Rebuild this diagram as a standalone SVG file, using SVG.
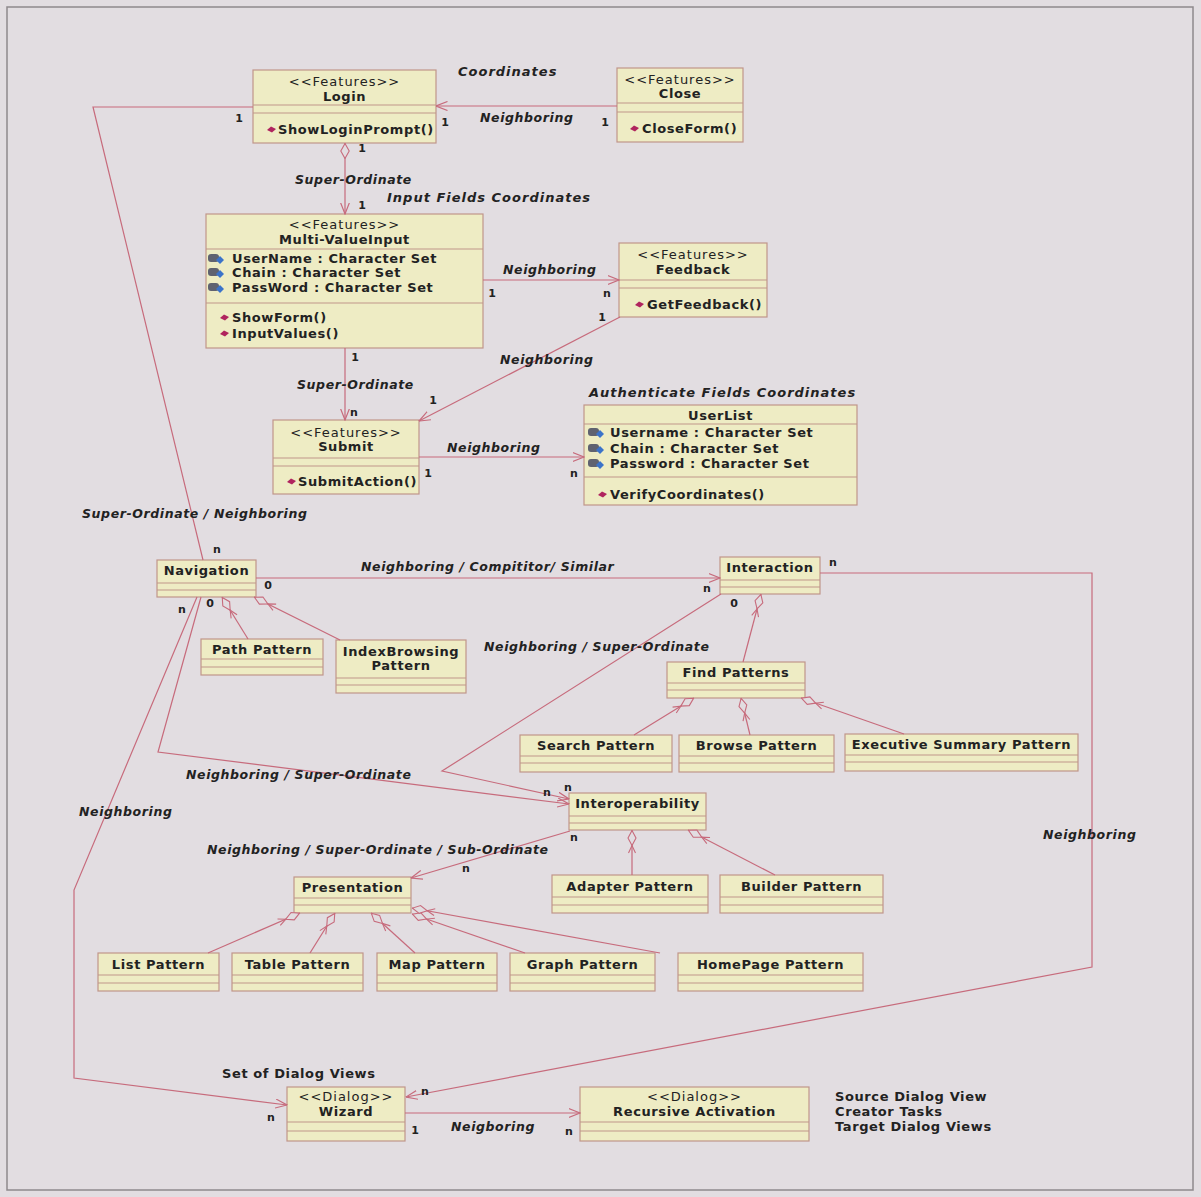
<svg xmlns="http://www.w3.org/2000/svg" xmlns:xlink="http://www.w3.org/1999/xlink" width="1201" height="1197" viewBox="0 0 1201 1197">
<style>
.bg{fill:#e2dde1}
.frame{fill:none;stroke:#8e898c;stroke-width:1.5}
.nd rect{fill:#eeecc4;stroke:#c0968a;stroke-width:1.2}
.dv{fill:none;stroke:#c0968a;stroke-width:1}
.c path{fill:none;stroke:#c76b7c;stroke-width:1.2}
text{font-family:"DejaVu Sans","Liberation Sans",sans-serif;fill:#222}
.nm{font-weight:bold;font-size:13px;letter-spacing:.6px;text-anchor:middle}
.st{font-size:13px;letter-spacing:1px;text-anchor:middle}
.at{font-weight:bold;font-size:13px;letter-spacing:.6px}
.lb{font-weight:bold;font-style:italic;font-size:12.5px;letter-spacing:.6px}
.tt{font-weight:bold;font-style:italic;font-size:13px;letter-spacing:1px}
.pl{font-weight:bold;font-size:13px;letter-spacing:.6px}
.m{font-weight:bold;font-size:11px;text-anchor:middle}
</style>
<defs>
<marker id="arr" viewBox="0 0 12 10" refX="11.5" refY="5" markerWidth="12" markerHeight="10" orient="auto" markerUnits="userSpaceOnUse">
<path d="M0,0.5 L11.5,5 L0,9.5" fill="none" stroke="#c76b7c" stroke-width="1.2"/>
</marker>
<marker id="diaS" viewBox="0 0 16 10" refX="0" refY="5" markerWidth="16" markerHeight="10" orient="auto" markerUnits="userSpaceOnUse">
<path d="M0.5,5 L8,0.8 L15.5,5 L8,9.2Z" fill="#e2dde1" stroke="#c76b7c" stroke-width="1.1"/>
</marker>
<marker id="agg" viewBox="0 0 26 10" refX="26" refY="5" markerWidth="26" markerHeight="10" orient="auto" markerUnits="userSpaceOnUse">
<path d="M3,1.5 L10.5,5 L3,8.5" fill="none" stroke="#c76b7c" stroke-width="1.1"/>
<path d="M10.5,5 L18,1 L25.5,5 L18,9Z" fill="#e2dde1" stroke="#c76b7c" stroke-width="1.1"/>
</marker>
<g id="ai"><rect x="0" y="-5" width="11" height="8" rx="3" fill="#5f6270"/><path d="M8,1 L12,-3 L16,1 L12,5Z" fill="#3b73c9"/></g>
<g id="mi"><path d="M0,0 L4,-3.5 L9,-1 L5,2.5Z" fill="#b0245e"/></g>
</defs>
<rect class="bg" x="0" y="0" width="1201" height="1197"/>
<rect class="frame" x="7" y="7" width="1186" height="1183"/>

<g id="login" class="nd">
<rect x="253" y="70" width="183" height="73"/>
<path class="dv" d="M253,105H436M253,113H436"/>
<text class="st" x="344.5" y="86">&lt;&lt;Features&gt;&gt;</text>
<text class="nm" x="344.5" y="101">Login</text>
<use xlink:href="#mi" x="267" y="130"/>
<text class="at" x="278" y="134">ShowLoginPrompt()</text>
</g>
<g id="close" class="nd">
<rect x="617" y="68" width="126" height="74"/>
<path class="dv" d="M617,103H743M617,112H743"/>
<text class="st" x="680" y="84">&lt;&lt;Features&gt;&gt;</text>
<text class="nm" x="680" y="98">Close</text>
<use xlink:href="#mi" x="630" y="129"/>
<text class="at" x="642" y="133">CloseForm()</text>
</g>
<g id="multivalueinput" class="nd">
<rect x="206" y="214" width="277" height="134"/>
<path class="dv" d="M206,249H483M206,303H483"/>
<text class="st" x="344.5" y="229">&lt;&lt;Features&gt;&gt;</text>
<text class="nm" x="344.5" y="244">Multi-ValueInput</text>
<use xlink:href="#ai" x="208" y="259"/><text class="at" x="232" y="263">UserName : Character Set</text>
<use xlink:href="#ai" x="208" y="273"/><text class="at" x="232" y="277">Chain : Character Set</text>
<use xlink:href="#ai" x="208" y="288"/><text class="at" x="232" y="292">PassWord : Character Set</text>
<use xlink:href="#mi" x="220" y="318"/><text class="at" x="232" y="322">ShowForm()</text>
<use xlink:href="#mi" x="220" y="334"/><text class="at" x="232" y="338">InputValues()</text>
</g>
<g id="feedback" class="nd">
<rect x="619" y="243" width="148" height="74"/>
<path class="dv" d="M619,280H767M619,288H767"/>
<text class="st" x="693" y="259">&lt;&lt;Features&gt;&gt;</text>
<text class="nm" x="693" y="274">Feedback</text>
<use xlink:href="#mi" x="635" y="305"/>
<text class="at" x="647" y="309">GetFeedback()</text>
</g>
<g id="submit" class="nd">
<rect x="273" y="420" width="146" height="74"/>
<path class="dv" d="M273,458H419M273,466H419"/>
<text class="st" x="346" y="437">&lt;&lt;Features&gt;&gt;</text>
<text class="nm" x="346" y="451">Submit</text>
<use xlink:href="#mi" x="287" y="482"/>
<text class="at" x="298" y="486">SubmitAction()</text>
</g>
<g id="userlist" class="nd">
<rect x="584" y="405" width="273" height="100"/>
<path class="dv" d="M584,424H857M584,477H857"/>
<text class="nm" x="720.5" y="420">UserList</text>
<use xlink:href="#ai" x="588" y="433"/><text class="at" x="610" y="437">Username : Character Set</text>
<use xlink:href="#ai" x="588" y="449"/><text class="at" x="610" y="453">Chain : Character Set</text>
<use xlink:href="#ai" x="588" y="464"/><text class="at" x="610" y="468">Password : Character Set</text>
<use xlink:href="#mi" x="598" y="495"/><text class="at" x="610" y="499">VerifyCoordinates()</text>
</g>
<g id="navigation" class="nd">
<rect x="157" y="560" width="99" height="37"/>
<path class="dv" d="M157,583H256M157,590H256"/>
<text class="nm" x="206.5" y="575">Navigation</text>
</g>
<g id="pathpattern" class="nd">
<rect x="201" y="639" width="122" height="36"/>
<path class="dv" d="M201,659H323M201,667H323"/>
<text class="nm" x="262" y="654">Path Pattern</text>
</g>
<g id="indexbrowsing" class="nd">
<rect x="336" y="640" width="130" height="53"/>
<path class="dv" d="M336,678H466M336,685H466"/>
<text class="nm" x="401" y="656">IndexBrowsing</text>
<text class="nm" x="401" y="670">Pattern</text>
</g>
<g id="interaction" class="nd">
<rect x="720" y="557" width="100" height="37"/>
<path class="dv" d="M720,580H820M720,587H820"/>
<text class="nm" x="770" y="572">Interaction</text>
</g>
<g id="findpatterns" class="nd">
<rect x="667" y="662" width="138" height="36"/>
<path class="dv" d="M667,683H805M667,690H805"/>
<text class="nm" x="736" y="677">Find Patterns</text>
</g>
<g id="searchpattern" class="nd">
<rect x="520" y="735" width="152" height="37"/>
<path class="dv" d="M520,756H672M520,763H672"/>
<text class="nm" x="596" y="750">Search Pattern</text>
</g>
<g id="browsepattern" class="nd">
<rect x="679" y="735" width="155" height="37"/>
<path class="dv" d="M679,756H834M679,763H834"/>
<text class="nm" x="756.5" y="750">Browse Pattern</text>
</g>
<g id="executivesummary" class="nd">
<rect x="845" y="734" width="233" height="37"/>
<path class="dv" d="M845,755H1078M845,762H1078"/>
<text class="nm" x="961.5" y="749">Executive Summary Pattern</text>
</g>
<g id="interoperability" class="nd">
<rect x="569" y="793" width="137" height="37"/>
<path class="dv" d="M569,816H706M569,823H706"/>
<text class="nm" x="637.5" y="808">Interoperability</text>
</g>
<g id="adapterpattern" class="nd">
<rect x="552" y="875" width="156" height="38"/>
<path class="dv" d="M552,897H708M552,905H708"/>
<text class="nm" x="630" y="891">Adapter Pattern</text>
</g>
<g id="builderpattern" class="nd">
<rect x="720" y="875" width="163" height="38"/>
<path class="dv" d="M720,897H883M720,905H883"/>
<text class="nm" x="801.5" y="891">Builder Pattern</text>
</g>
<g id="presentation" class="nd">
<rect x="294" y="877" width="117" height="36"/>
<path class="dv" d="M294,898H411M294,905H411"/>
<text class="nm" x="352.5" y="892">Presentation</text>
</g>
<g id="listpattern" class="nd">
<rect x="98" y="953" width="121" height="38"/>
<path class="dv" d="M98,975H219M98,983H219"/>
<text class="nm" x="158.5" y="969">List Pattern</text>
</g>
<g id="tablepattern" class="nd">
<rect x="232" y="953" width="131" height="38"/>
<path class="dv" d="M232,975H363M232,983H363"/>
<text class="nm" x="297.5" y="969">Table Pattern</text>
</g>
<g id="mappattern" class="nd">
<rect x="377" y="953" width="120" height="38"/>
<path class="dv" d="M377,975H497M377,983H497"/>
<text class="nm" x="437" y="969">Map Pattern</text>
</g>
<g id="graphpattern" class="nd">
<rect x="510" y="953" width="145" height="38"/>
<path class="dv" d="M510,975H655M510,983H655"/>
<text class="nm" x="582.5" y="969">Graph Pattern</text>
</g>
<g id="homepagepattern" class="nd">
<rect x="678" y="953" width="185" height="38"/>
<path class="dv" d="M678,975H863M678,983H863"/>
<text class="nm" x="770.5" y="969">HomePage Pattern</text>
</g>
<g id="wizard" class="nd">
<rect x="287" y="1087" width="118" height="54"/>
<path class="dv" d="M287,1122H405M287,1131H405"/>
<text class="st" x="346" y="1101">&lt;&lt;Dialog&gt;&gt;</text>
<text class="nm" x="346" y="1116">Wizard</text>
</g>
<g id="recursiveactivation" class="nd">
<rect x="580" y="1087" width="229" height="54"/>
<path class="dv" d="M580,1122H809M580,1131H809"/>
<text class="st" x="694.5" y="1101">&lt;&lt;Dialog&gt;&gt;</text>
<text class="nm" x="694.5" y="1116">Recursive Activation</text>
</g>

<g id="connectors" class="c">
<path d="M617,106 L436,106" marker-end="url(#arr)"/>
<path d="M345,143 L345,214" marker-start="url(#diaS)" marker-end="url(#arr)"/>
<path d="M483,280 L619,280" marker-end="url(#arr)"/>
<path d="M620,317 L419,421" marker-end="url(#arr)"/>
<path d="M345,348 L345,420" marker-end="url(#arr)"/>
<path d="M419,457 L584,457" marker-end="url(#arr)"/>
<path d="M253,107 L93,107 L203,560"/>
<path d="M256,578 L720,578" marker-end="url(#arr)"/>
<path d="M248,639 L222,597" marker-end="url(#agg)"/>
<path d="M340,640 L254,597" marker-end="url(#agg)"/>
<path d="M197,597 L74,890 L74,1078 L287,1105" marker-end="url(#arr)"/>
<path d="M201,597 L158,752 L569,804" marker-end="url(#arr)"/>
<path d="M721,594 L442,771 L569,799" marker-end="url(#arr)"/>
<path d="M743,662 L761,594" marker-end="url(#agg)"/>
<path d="M634,735 L694,698" marker-end="url(#agg)"/>
<path d="M750,735 L741,698" marker-end="url(#agg)"/>
<path d="M904,734 L801,698" marker-end="url(#agg)"/>
<path d="M820,573 L1092,573 L1092,967 L406,1097" marker-end="url(#arr)"/>
<path d="M570,831 L411,878" marker-end="url(#arr)"/>
<path d="M632,875 L632,830" marker-end="url(#agg)"/>
<path d="M775,875 L688,830" marker-end="url(#agg)"/>
<path d="M208,953 L300,913" marker-end="url(#agg)"/>
<path d="M310,953 L335,913" marker-end="url(#agg)"/>
<path d="M415,953 L371,913" marker-end="url(#agg)"/>
<path d="M525,953 L412,914" marker-end="url(#agg)"/>
<path d="M660,953 L412,908" marker-end="url(#agg)"/>
<path d="M405,1113 L580,1113" marker-end="url(#arr)"/>
</g>

<g id="labels">
<text class="tt" x="458" y="76">Coordinates</text>
<text class="lb" x="480" y="122">Neighboring</text>
<text class="m" x="445" y="126">1</text>
<text class="m" x="605" y="126">1</text>
<text class="m" x="362" y="152">1</text>
<text class="lb" x="295" y="184">Super-Ordinate</text>
<text class="m" x="362" y="209">1</text>
<text class="tt" x="387" y="202">Input Fields Coordinates</text>
<text class="lb" x="503" y="274">Neighboring</text>
<text class="m" x="492" y="297">1</text>
<text class="m" x="607" y="297">n</text>
<text class="m" x="602" y="321">1</text>
<text class="lb" x="500" y="364">Neighboring</text>
<text class="m" x="355" y="361">1</text>
<text class="lb" x="297" y="389">Super-Ordinate</text>
<text class="m" x="354" y="416">n</text>
<text class="m" x="433" y="404">1</text>
<text class="tt" x="589" y="397">Authenticate Fields Coordinates</text>
<text class="lb" x="447" y="452">Neighboring</text>
<text class="m" x="428" y="477">1</text>
<text class="m" x="574" y="477">n</text>
<text class="lb" x="82" y="518">Super-Ordinate / Neighboring</text>
<text class="m" x="239" y="122">1</text>
<text class="m" x="217" y="553">n</text>
<text class="lb" x="361" y="571">Neighboring / Compititor/ Similar</text>
<text class="m" x="268" y="589">0</text>
<text class="m" x="707" y="592">n</text>
<text class="m" x="833" y="566">n</text>
<text class="m" x="210" y="607">0</text>
<text class="m" x="182" y="613">n</text>
<text class="m" x="734" y="607">0</text>
<text class="lb" x="484" y="651">Neighboring / Super-Ordinate</text>
<text class="lb" x="186" y="779">Neighboring / Super-Ordinate</text>
<text class="m" x="547" y="796">n</text>
<text class="m" x="568" y="791">n</text>
<text class="lb" x="79" y="816">Neighboring</text>
<text class="lb" x="1043" y="839">Neighboring</text>
<text class="lb" x="207" y="854">Neighboring / Super-Ordinate / Sub-Ordinate</text>
<text class="m" x="574" y="841">n</text>
<text class="m" x="466" y="872">n</text>
<text class="pl" x="222" y="1078">Set of Dialog Views</text>
<text class="m" x="425" y="1095">n</text>
<text class="m" x="271" y="1121">n</text>
<text class="m" x="415" y="1134">1</text>
<text class="lb" x="451" y="1131">Neigboring</text>
<text class="m" x="569" y="1135">n</text>
<text class="pl" x="835" y="1101">Source Dialog View</text>
<text class="pl" x="835" y="1116">Creator Tasks</text>
<text class="pl" x="835" y="1131">Target Dialog Views</text>
</g>
</svg>
